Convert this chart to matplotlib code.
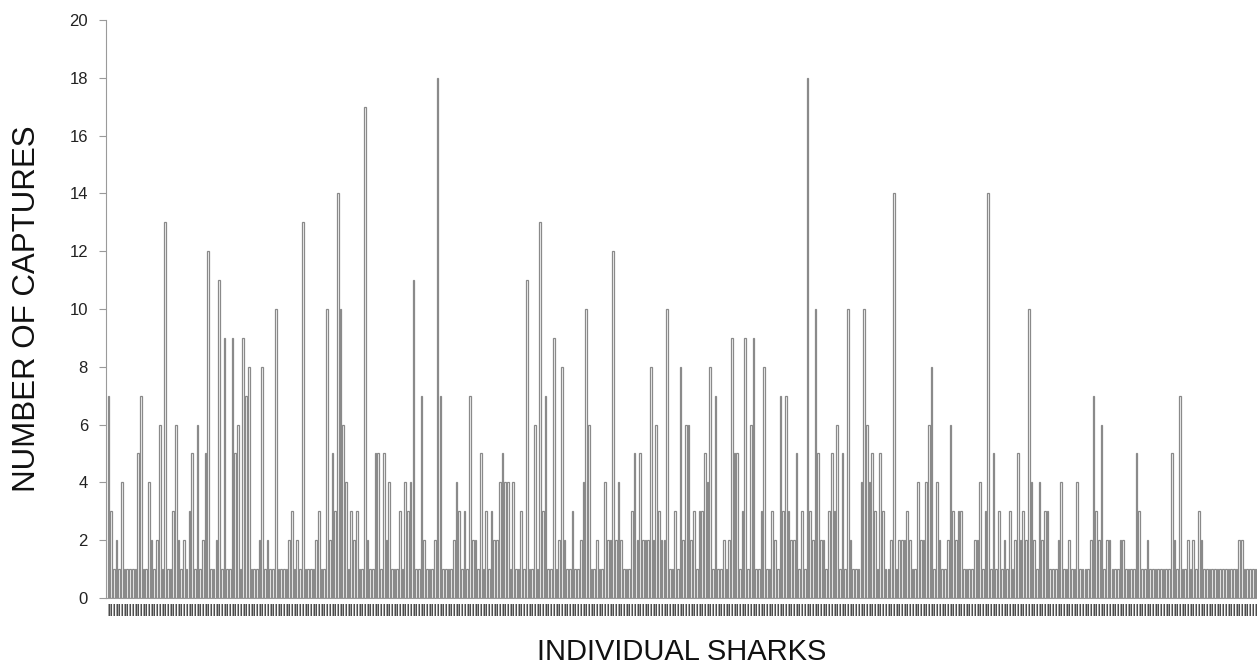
import matplotlib
matplotlib.use("Agg")
import matplotlib.pyplot as plt
import numpy as np

plt.rcParams['font.family'] = ['Liberation Sans', 'DejaVu Sans']

# captures per individual shark, read left to right off the reference
captures = [
    7, 3, 1, 2, 1, 4, 1, 1, 1, 1,
    1, 5, 7, 1, 1, 4, 2, 1, 2, 6,
    1, 13, 1, 1, 3, 6, 2, 1, 2, 1,
    3, 5, 1, 6, 1, 2, 5, 12, 1, 1,
    2, 11, 1, 9, 1, 1, 9, 5, 6, 1,
    9, 7, 8, 1, 1, 1, 2, 8, 1, 2,
    1, 1, 10, 1, 1, 1, 1, 2, 3, 1,
    2, 1, 13, 1, 1, 1, 1, 2, 3, 1,
    1, 10, 2, 5, 3, 14, 10, 6, 4, 1,
    3, 2, 3, 1, 1, 17, 2, 1, 1, 5,
    5, 1, 5, 2, 4, 1, 1, 1, 3, 1,
    4, 3, 4, 11, 1, 1, 7, 2, 1, 1,
    1, 2, 18, 7, 1, 1, 1, 1, 2, 4,
    3, 1, 3, 1, 7, 2, 2, 1, 5, 1,
    3, 1, 3, 2, 2, 4, 5, 4, 4, 1,
    4, 1, 1, 3, 1, 11, 1, 1, 6, 1,
    13, 3, 7, 1, 1, 9, 1, 2, 8, 2,
    1, 1, 3, 1, 1, 2, 4, 10, 6, 1,
    1, 2, 1, 1, 4, 2, 2, 12, 2, 4,
    2, 1, 1, 1, 3, 5, 2, 5, 2, 2,
    2, 8, 2, 6, 3, 2, 2, 10, 1, 1,
    3, 1, 8, 2, 6, 6, 2, 3, 1, 3,
    3, 5, 4, 8, 1, 7, 1, 1, 2, 1,
    2, 9, 5, 5, 1, 3, 9, 1, 6, 9,
    1, 1, 3, 8, 1, 1, 3, 2, 1, 7,
    3, 7, 3, 2, 2, 5, 1, 3, 1, 18,
    3, 2, 10, 5, 2, 2, 1, 3, 5, 3,
    6, 1, 5, 1, 10, 2, 1, 1, 1, 4,
    10, 6, 4, 5, 3, 1, 5, 3, 1, 1,
    2, 14, 1, 2, 2, 2, 3, 2, 1, 1,
    4, 2, 2, 4, 6, 8, 1, 4, 2, 1,
    1, 2, 6, 3, 2, 3, 3, 1, 1, 1,
    1, 2, 2, 4, 1, 3, 14, 1, 5, 1,
    3, 1, 2, 1, 3, 1, 2, 5, 2, 3,
    2, 10, 4, 2, 1, 4, 2, 3, 3, 1,
    1, 1, 2, 4, 1, 1, 2, 1, 1, 4,
    1, 1, 1, 1, 2, 7, 3, 2, 6, 1,
    2, 2, 1, 1, 1, 2, 2, 1, 1, 1,
    1, 5, 3, 1, 1, 2, 1, 1, 1, 1,
    1, 1, 1, 1, 5, 2, 1, 7, 1, 1,
    2, 1, 2, 1, 3, 2, 1, 1, 1, 1,
    1, 1, 1, 1, 1, 1, 1, 1, 1, 2,
    2, 1, 1, 1, 1, 1,
]
y_ticks = list(range(0, 21, 2))
x_title = "INDIVIDUAL SHARKS"
y_title = "NUMBER OF CAPTURES"

fig = plt.figure(figsize=(12.57, 6.64), dpi=100)
ax = fig.add_axes([0.0843, 0.0994, 0.9157, 0.8706])

x = np.arange(len(captures))
ax.bar(x, captures, width=0.62, color='white', edgecolor='#8a8a8a', linewidth=0.9)

ax.set_xlim(-0.9, len(captures) - 0.4)
ax.set_ylim(0, 20)
ax.set_yticks(y_ticks)
ax.tick_params(axis='y', labelsize=12, colors='#222222', length=5, width=0.8,
               color='#9a9a9a', pad=8)

# the category labels in the source are illegible slivers; mimic them
ax.set_xticks(x)
ax.set_xticklabels(['I'] * len(captures), fontsize=12, color='#4d4d4d')
ax.tick_params(axis='x', length=0, pad=4)

for side in ['top', 'right']:
    ax.spines[side].set_visible(False)
ax.spines['left'].set_color('#9a9a9a')
ax.spines['bottom'].set_color('#9a9a9a')

ax.set_xlabel(x_title, fontsize=21, color='#111111', labelpad=14)
ax.set_ylabel(y_title, fontsize=22.5, color='#111111', labelpad=20)

fig.savefig('out.png', dpi=100)
